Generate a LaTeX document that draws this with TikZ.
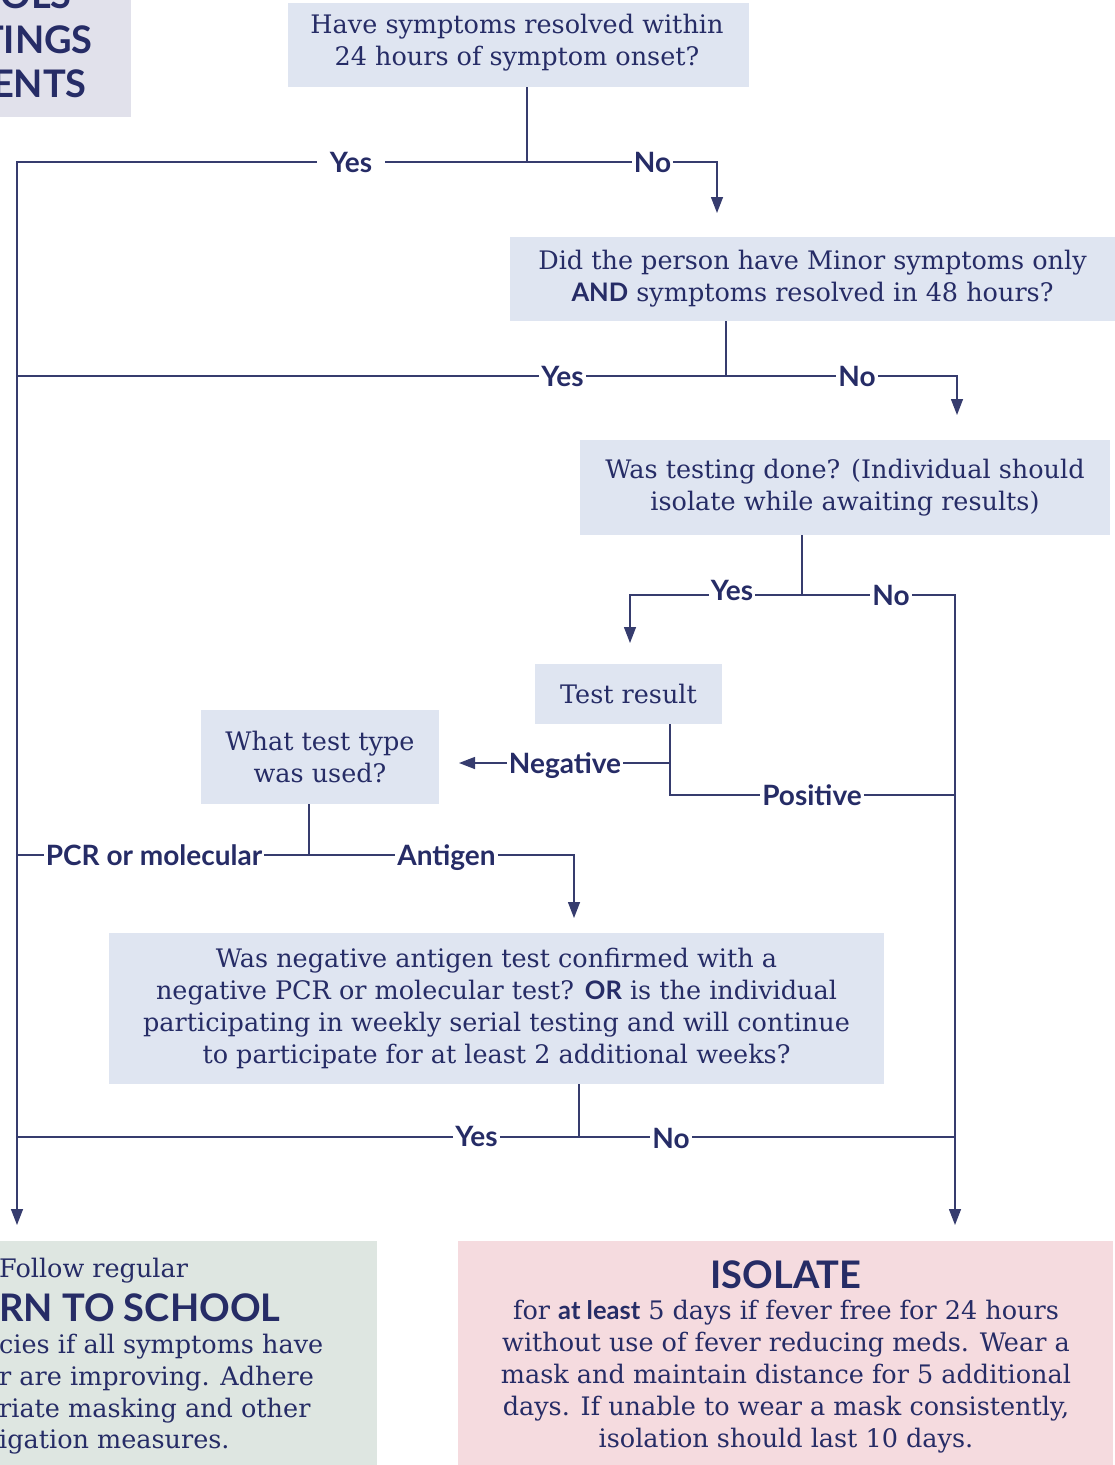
\documentclass[tikz,border=0pt]{standalone}
\usepackage{fontspec}
\setmainfont{DejaVu Serif}
\newfontfamily\lato{Lato}
\usetikzlibrary{arrows.meta}
\definecolor{navy}{HTML}{262C66}
\definecolor{linec}{HTML}{363C6E}
\definecolor{qfill}{HTML}{DFE5F1}
\definecolor{tlfill}{HTML}{E1E1EB}
\definecolor{gfill}{HTML}{DEE6E1}
\definecolor{pfill}{HTML}{F5DBDF}
\newcommand{\bodyf}{\fontsize{25.5}{32}\selectfont}
\newcommand{\labf}{\lato\bfseries\fontsize{28}{32}\selectfont}
\newcommand{\headf}{\lato\bfseries\fontsize{38}{44}\selectfont}
\newcommand{\bsans}[1]{{\lato\bfseries #1}}
\tikzset{
  qbox/.style={fill=qfill, inner sep=0pt, align=center, text=navy, font=\bodyf},
  panel/.style={inner sep=0pt, anchor=north west},
  lab/.style={font=\labf, text=navy, inner xsep=2pt, inner ysep=0pt, anchor=base},
  head/.style={font=\headf, text=navy, inner sep=0pt},
  body/.style={font=\bodyf, text=navy, inner sep=0pt},
  conn/.style={draw=linec, line width=1.4pt},
  arr/.style={conn, -{Triangle[width=12pt,length=16pt]}},
}
\begin{document}
\begin{tikzpicture}[x=1pt,y=-1pt]
\useasboundingbox (0,0) rectangle (1115,1465);

% top-left title panel
\node[panel, fill=tlfill, minimum width=131, minimum height=117] (tl) at (0,0) {};
\node[head, anchor=base east] (tl1) at (72,8) {OLS};
\node[head, anchor=base east] (tl2) at (93,53) {TINGS};
\node[head, anchor=base east] (tl3) at (87,97) {ENTS};

\coordinate (aL) at (17,1225);
\coordinate (aR) at (955,1225);

% question 1
\node[qbox, minimum width=461, minimum height=84] (q1) at (518.5,45) {};
\node[body, align=center] (q1t) at (517,42.5) {Have symptoms resolved within\\24 hours of symptom onset?};
\coordinate (j1) at (527,162);
\node[lab, inner xsep=13pt] (y1) at (351,172) {Yes};
\node[lab] (n1) at (652.5,172) {No};
\coordinate (a1) at (717,213);
\draw[conn] (q1.south -| j1) -- (j1);
\draw[conn] (y1.east |- j1) -- (n1.west |- j1);
\draw[arr] (n1.east |- j1) -| (a1);
\draw[arr] (y1.west |- j1) -| (aL);

% question 2
\node[qbox, minimum width=605, minimum height=84] (q2) at (812.5,279) {Did the person have Minor symptoms only\\\bsans{AND} symptoms resolved in 48 hours?};
\coordinate (j2) at (726,376);
\node[lab] (y2) at (562.5,386) {Yes};
\node[lab] (n2) at (857,386) {No};
\coordinate (a2) at (957,415);
\draw[conn] (q2.south -| j2) -- (j2);
\draw[conn] (y2.east |- j2) -- (n2.west |- j2);
\draw[arr] (n2.east |- j2) -| (a2);
\draw[conn] (y2.west |- j2) -- (j2 -| aL);

% question 3
\node[qbox, minimum width=530, minimum height=95] (q3) at (845,487.5) {Was testing done? (Individual should\\isolate while awaiting results)};
\coordinate (j3) at (802,595);
\node[lab] (y3) at (732,600) {Yes};
\node[lab] (n3) at (891,605) {No};
\coordinate (a3) at (630,643);
\draw[conn] (q3.south -| j3) -- (j3);
\draw[conn] (y3.east |- j3) -- (n3.west |- j3);
\draw[arr] (y3.west |- j3) -| (a3);
\draw[arr] (n3.east |- j3) -| (aR);

% test result
\node[qbox, minimum width=187, minimum height=60] (tr) at (628.5,694) {Test result};
\coordinate (jt) at (670,795);
\coordinate (jn) at (670,763);
\node[lab] (neg) at (565,773) {Negative};
\coordinate (an) at (459,763);
\node[lab] (pos) at (812,805) {Positive};
\draw[conn] (tr.south -| jt) -- (jt) -- (pos.west |- jt);
\draw[conn] (jn) -- (neg.east |- jn);
\draw[arr] (neg.west |- jn) -- (an);
\draw[conn] (pos.east |- jt) -- (jt -| aR);

% test type
\node[qbox, minimum width=238, minimum height=94] (q5) at (320,757) {What test type\\was used?};
\coordinate (j5) at (309,855);
\node[lab] (pcr) at (154,865) {PCR or molecular};
\node[lab] (ant) at (446.5,865) {Antigen};
\coordinate (a5) at (574,918);
\draw[conn] (q5.south -| j5) -- (j5);
\draw[conn] (pcr.east |- j5) -- (j5) -- (ant.west |- j5);
\draw[conn] (pcr.west |- j5) -- (j5 -| aL);
\draw[arr] (ant.east |- j5) -| (a5);

% question 6
\node[qbox, minimum width=775, minimum height=151] (q6) at (496.5,1008.5) {Was negative antigen test confirmed with a\\negative PCR or molecular test? \bsans{OR} is the individual\\participating in weekly serial testing and will continue\\to participate for at least 2 additional weeks?};
\coordinate (j6) at (579,1137);
\node[lab] (y6) at (476.5,1146) {Yes};
\node[lab] (n6) at (671,1148) {No};
\draw[conn] (q6.south -| j6) -- (j6);
\draw[conn] (y6.east |- j6) -- (n6.west |- j6);
\draw[conn] (y6.west |- j6) -- (j6 -| aL);
\draw[conn] (n6.east |- j6) -- (j6 -| aR);

% return to school panel
\node[panel, fill=gfill, minimum width=377, minimum height=224] (rs) at (0,1241) {};
\node[body, anchor=base west] (rs1) at (-1,1277) {Follow regular};
\node[head, anchor=base west] (rs2) at (-1,1321) {RN TO SCHOOL};
\node[body, anchor=base west] (rs3) at (-1,1353) {cies if all symptoms have};
\node[body, anchor=base west] (rs4) at (-1,1385) {r are improving. Adhere};
\node[body, anchor=base west] (rs5) at (-1,1417) {riate masking and other};
\node[body, anchor=base west] (rs6) at (-1,1448) {igation measures.};

% isolate panel
\node[panel, fill=pfill, minimum width=655, minimum height=224] (iso) at (458,1241) {};
\node[head, anchor=base] (isoh) at (786,1288) {ISOLATE};
\node[body, align=center] (isob) at (786,1377) {for \bsans{at least} 5 days if fever free for 24 hours\\without use of fever reducing meds. Wear a\\mask and maintain distance for 5 additional\\days. If unable to wear a mask consistently,\\isolation should last 10 days.};
\end{tikzpicture}
\end{document}
